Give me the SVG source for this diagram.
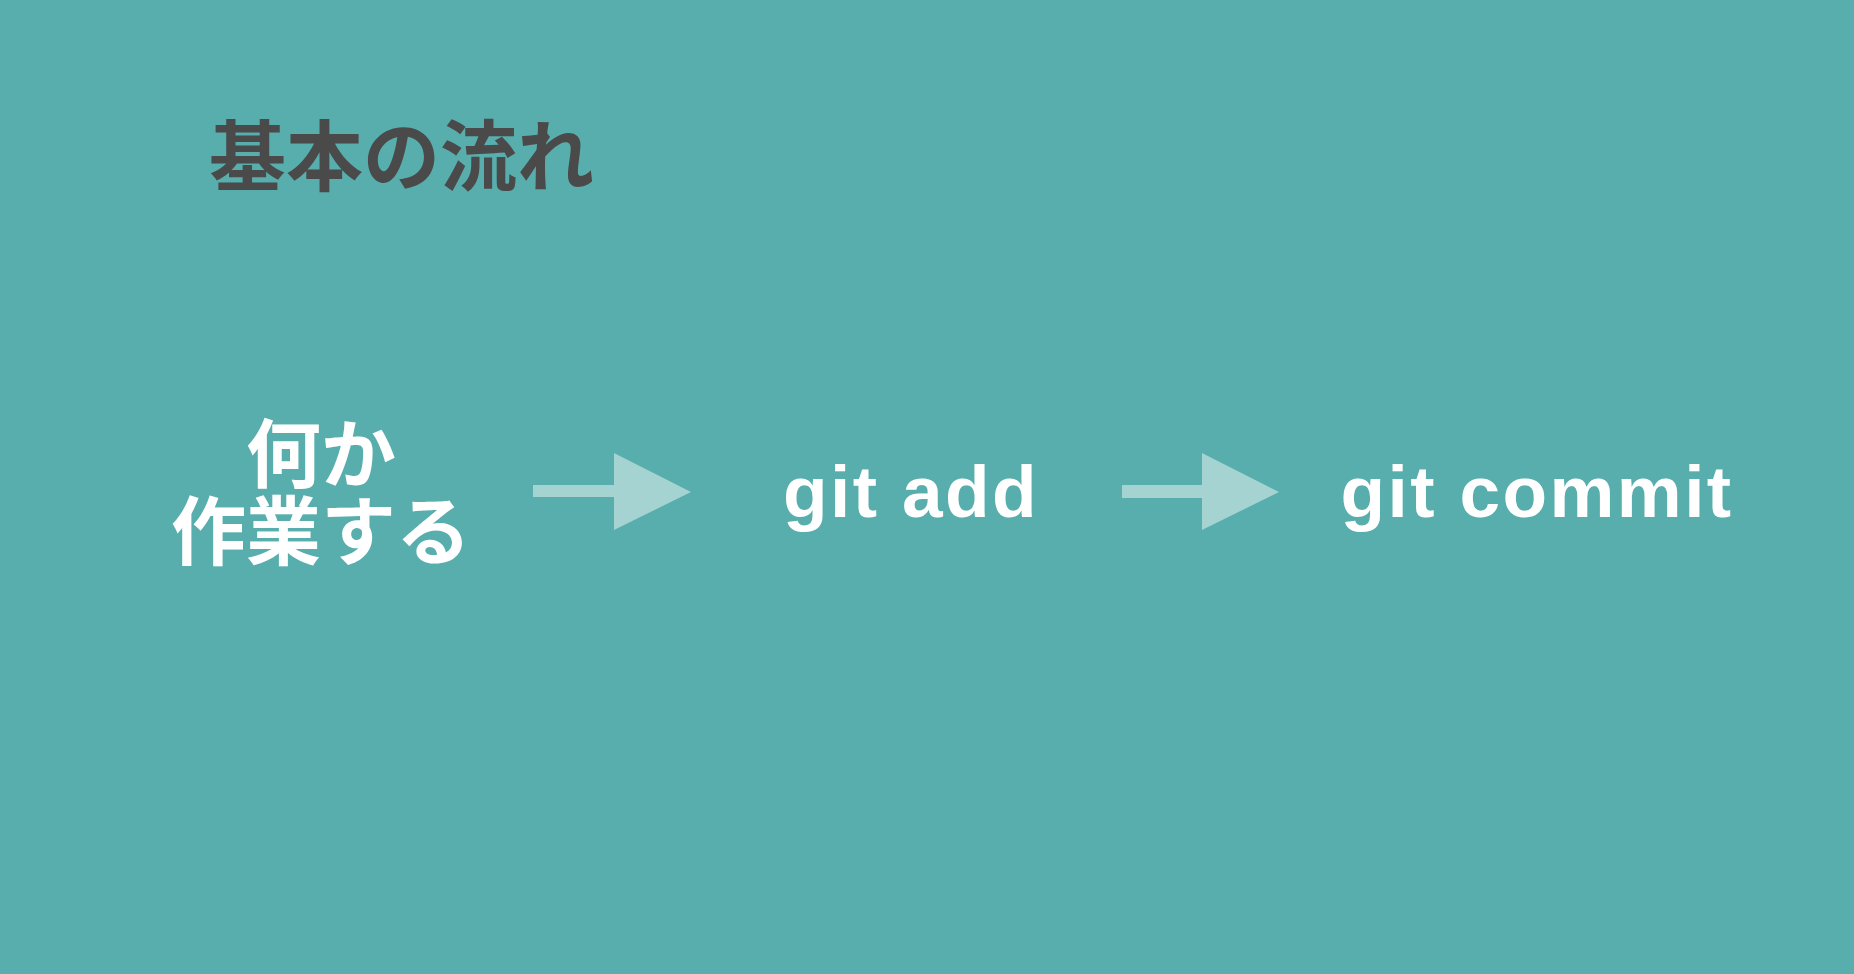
<svg xmlns="http://www.w3.org/2000/svg" width="1854" height="974" viewBox="0 0 1854 974">
  <style>
    .title { font-family: "Noto Sans CJK JP", "Noto Sans", sans-serif; font-weight: 700; font-size: 77px; fill: #4a4a4a; }
    .jp { font-family: "Noto Sans CJK JP", "Noto Sans", sans-serif; font-weight: 700; font-size: 75px; fill: #ffffff; text-anchor: middle; }
    .cmd { font-family: "Liberation Sans", Arial, sans-serif; font-weight: 700; font-size: 73px; letter-spacing: 2.4px; fill: #ffffff; text-anchor: middle; }
    .arrow { fill: #a4d3d2; }
  </style>
  <rect x="0" y="0" width="1854" height="974" fill="#58aead"/>
  <g id="title">
    <text class="title" x="209" y="185">基本の流れ</text>
  </g>
  <g id="node-work">
    <text class="jp" x="321" y="482">何か</text>
    <text class="jp" x="321" y="559">作業する</text>
  </g>
  <g id="node-add">
    <text class="cmd" x="911" y="517">git add</text>
  </g>
  <g id="node-commit">
    <text class="cmd" x="1537" y="517">git commit</text>
  </g>
  <g id="connectors">
    <path class="arrow" d="M533,485 L614,485 L614,453 L691,492 L614,530 L614,497 L533,497 Z"/>
    <path class="arrow" d="M1122,485 L1202,485 L1202,453 L1279,492 L1202,530 L1202,498 L1122,498 Z"/>
  </g>
</svg>
